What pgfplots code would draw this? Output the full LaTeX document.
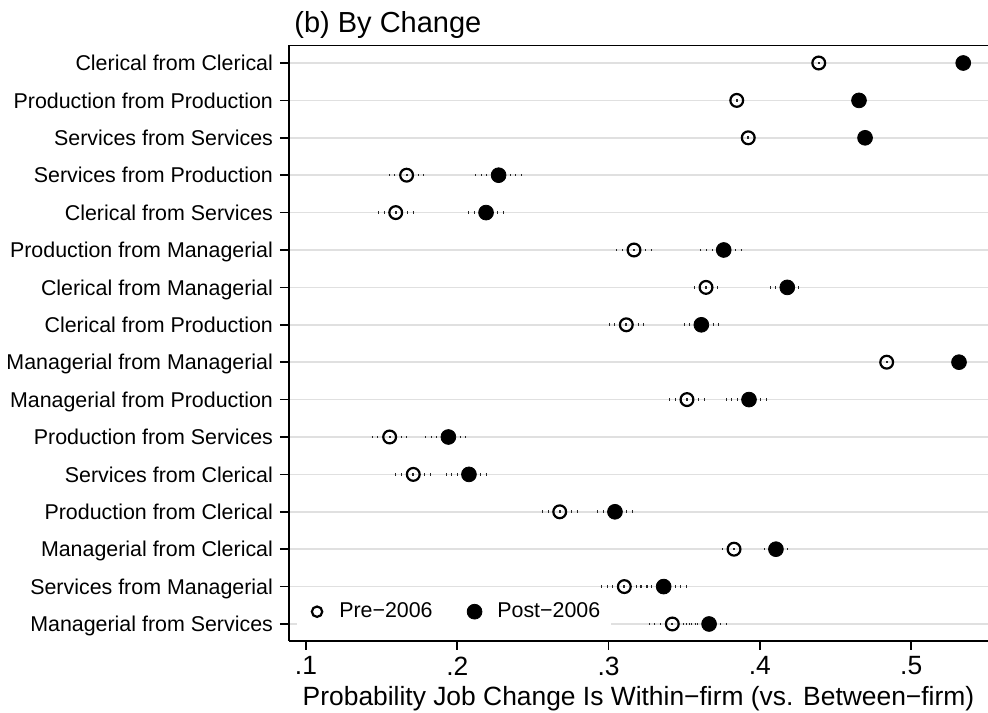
\documentclass[border=0pt]{standalone}
\usepackage{fontspec}
\setmainfont{Liberation Sans}
\usepackage{pgfplots}
\pgfplotsset{compat=1.18}
\usepackage{pgfplotstable}
\usetikzlibrary{calc}

% row, pre-2006 estimate with CI half-widths, post-2006 estimate with CI half-widths
\pgfplotstableread{
row pre    prem   prep   post   postm  postp
1   0.4389 0.0030 0.0030 0.5344 0.0030 0.0030
2   0.3847 0.0030 0.0030 0.4655 0.0030 0.0030
3   0.3923 0.0030 0.0030 0.4695 0.0030 0.0030
4   0.1665 0.0147 0.0143 0.2273 0.0167 0.0166
5   0.1593 0.0130 0.0121 0.2190 0.0146 0.0145
6   0.3168 0.0146 0.0143 0.3761 0.0161 0.0130
7   0.3644 0.0104 0.0103 0.4181 0.0112 0.0093
8   0.3117 0.0126 0.0124 0.3613 0.0148 0.0145
9   0.4838 0.0020 0.0020 0.5316 0.0020 0.0020
10  0.3518 0.0143 0.0142 0.3928 0.0157 0.0130
11  0.1553 0.0141 0.0146 0.1941 0.0161 0.0128
12  0.1709 0.0132 0.0115 0.2077 0.0150 0.0141
13  0.2677 0.0122 0.0127 0.3042 0.0143 0.0146
14  0.3829 0.0095 0.0068 0.4106 0.0105 0.0102
15  0.3104 0.0176 0.0176 0.3364 0.0160 0.0159
16  0.3421 0.0157 0.0157 0.3664 0.0159 0.0127
}\changes

\newcommand\titlefont{\fontsize{14.5}{17}\selectfont}
\newcommand\bigfont{\fontsize{13.2}{16}\selectfont}
\newcommand\smallfont{\fontsize{10.7}{13}\selectfont}

% legend keys: a single marker with fixed room on either side
\pgfplotsset{
  preleg/.style={legend image code/.code={%
    \draw[##1, mark size=2.6pt] plot coordinates {(0pt,0pt)};
    \path (-6.15pt,0pt) (8.9pt,0pt);}},
  postleg/.style={legend image code/.code={%
    \draw[##1] plot coordinates {(0pt,0pt)};
    \path (-18.75pt,0pt) (9.2pt,0pt);}},
}

\begin{document}
\begin{tikzpicture}
\begin{axis}[
  name=ax,
  scale only axis,
  width=349.5pt, height=297.85pt,
  xmin=0.08876, xmax=0.55076,
  ymin=0.519, ymax=16.447,
  y dir=reverse,
  axis x line*=bottom, axis y line*=left,
  axis line style={-, line width=1pt, black},
  xtick={0.1,0.2,0.3,0.4,0.5},
  xticklabels={.1,.2,.3,.4,.5},
  ytick={1,...,16},
  yticklabels={
    Clerical from Clerical,
    Production from Production,
    Services from Services,
    Services from Production,
    Clerical from Services,
    Production from Managerial,
    Clerical from Managerial,
    Clerical from Production,
    Managerial from Managerial,
    Managerial from Production,
    Production from Services,
    Services from Clerical,
    Production from Clerical,
    Managerial from Clerical,
    Services from Managerial,
    Managerial from Services},
  tick align=outside,
  major tick length=4.5pt,
  tick style={line width=0.8pt, black},
  ymajorgrids,
  grid style={line width=0.8pt, black!12},
  xticklabel style={font=\bigfont},
  yticklabel style={font=\smallfont, text height=7.7pt, text depth=0pt},
  title={(b) By Change},
  title style={at={(0.0072,1)}, anchor=base west, yshift=0.5pt, font=\titlefont, inner sep=0pt},
  xlabel={Probability Job Change Is Within−firm (vs. Between−firm)},
  xlabel style={at={(0.5,0)}, anchor=base, yshift=-32.4pt, font=\bigfont, inner sep=0pt},
  legend style={at={(0.0114,0.0487)}, anchor=west, draw=none, fill=white,
    font=\smallfont, legend columns=2, inner xsep=3.5pt, inner ysep=2pt,
    /tikz/every even column/.append style={column sep=0pt},
    /tikz/every odd column/.append style={column sep=0pt}},
  error bars/error bar style={line width=1.3pt, black!85, dash pattern=on 0.5pt off 2.3pt},
  error bars/error mark=none,
]
\addplot+[only marks, mark=o, mark size=3.2pt, black, mark options={line width=1.1pt, black},
  preleg, error bars/.cd, x dir=both, x explicit]
  table[x=pre, y=row, x error minus=prem, x error plus=prep] {\changes};
\addlegendentry{Pre−2006}
\addplot+[only marks, mark=*, mark size=3.7pt, black, mark options={fill=black, draw=black},
  postleg, error bars/.cd, x dir=both, x explicit]
  table[x=post, y=row, x error minus=postm, x error plus=postp] {\changes};
\addlegendentry{Post−2006}
\draw[line width=1pt] (axis cs:0.08876,0.519) -- (axis cs:0.55076,0.519);
\end{axis}
\pgfresetboundingbox
\path ($(ax.south west)+(-144.5pt,-36.15pt)$) rectangle ($(ax.north east)+(0pt,22.5pt)$);
\end{tikzpicture}
\end{document}
